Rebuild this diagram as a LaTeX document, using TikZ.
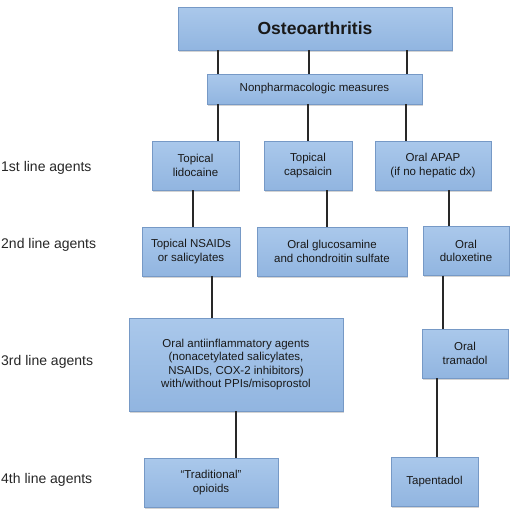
\documentclass[tikz,border=0pt]{standalone}
\usepackage{fontspec}
\setmainfont{Liberation Sans}
\usetikzlibrary{shadows}
\definecolor{boxtop}{RGB}{170,200,235}
\definecolor{boxbot}{RGB}{145,181,224}
\definecolor{boxedge}{RGB}{118,153,198}
\definecolor{linkgray}{RGB}{40,40,40}
\begin{document}
\begin{tikzpicture}[x=1pt, y=-1pt,
  box/.style={draw=boxedge, top color=boxtop, bottom color=boxbot, inner sep=0pt,
    minimum height=49pt, align=center, text=black!90,
    font=\fontsize{11.5}{13.5}\selectfont,
    drop shadow={shadow xshift=1pt, shadow yshift=-1.5pt, opacity=0.35}},
  link/.style={draw=linkgray, line width=1.2pt},
  level/.style={anchor=west, inner sep=1pt, text=black!85, font=\fontsize{14}{16}\selectfont}]
  \useasboundingbox (0,0) rectangle (512,512);
  % boxes
  \node[box, minimum width=274pt, minimum height=43pt, font=\bfseries\fontsize{17.5}{20}\selectfont] (oa) at (315,28.5) {Osteoarthritis};
  \node[box, minimum width=215pt, minimum height=30pt] (nonph) at (314.5,89) {Nonpharmacologic measures};
  \node[box, minimum width=87pt] (lido) at (195.5,165.5) {Topical\\lidocaine};
  \node[box, minimum width=88pt] (caps) at (308,165.5) {Topical\\capsaicin};
  \node[box, minimum width=116pt] (apap) at (433,165.5) {Oral APAP\\(if no hepatic dx)};
  \node[box, minimum width=98pt] (nsaid) at (191,251.5) {Topical NSAIDs\\or salicylates};
  \node[box, minimum width=150pt] (gluc) at (332,251.5) {Oral glucosamine\\and chondroitin sulfate};
  \node[box, minimum width=86pt] (dulox) at (466,251) {Oral\\duloxetine};
  \node[box, minimum width=214pt, minimum height=93pt] (antiinfl) at (236,364.5) {Oral antiinflammatory agents\\(nonacetylated salicylates,\\NSAIDs, COX-2 inhibitors)\\with/without PPIs/misoprostol};
  \node[box, minimum width=86pt] (tram) at (465,353.5) {Oral\\tramadol};
  \node[box, minimum width=134pt] (trad) at (211,482.5) {“Traditional”\\opioids};
  \node[box, minimum width=87pt] (tapen) at (434.5,481.5) {Tapentadol};
  % connectors
  \draw[link] ([xshift=-97pt]oa.south) -- ([xshift=-97pt]oa.south |- nonph.north);
  \draw[link] ([xshift=-6pt]oa.south) -- ([xshift=-6pt]oa.south |- nonph.north);
  \draw[link] ([xshift=92pt]oa.south) -- ([xshift=92pt]oa.south |- nonph.north);
  \draw[link] ([xshift=-96.5pt]nonph.south) -- ([xshift=-96.5pt]nonph.south |- lido.north);
  \draw[link] ([xshift=-6.5pt]nonph.south) -- ([xshift=-6.5pt]nonph.south |- caps.north);
  \draw[link] ([xshift=91.5pt]nonph.south) -- ([xshift=91.5pt]nonph.south |- apap.north);
  \draw[link] ([xshift=-2.5pt]lido.south) -- ([xshift=-2.5pt]lido.south |- nsaid.north);
  \draw[link] ([xshift=19pt]caps.south) -- ([xshift=19pt]caps.south |- gluc.north);
  \draw[link] ([xshift=16pt]apap.south) -- ([xshift=16pt]apap.south |- dulox.north);
  \draw[link] ([xshift=21pt]nsaid.south) -- ([xshift=21pt]nsaid.south |- antiinfl.north);
  \draw[link] ([xshift=-23pt]dulox.south) -- ([xshift=-23pt]dulox.south |- tram.north);
  \draw[link] (antiinfl.south) -- (antiinfl.south |- trad.north);
  \draw[link] ([xshift=-28pt]tram.south) -- ([xshift=-28pt]tram.south |- tapen.north);
  % levels
  \node[level] (l1) at (0,168) {1st line agents};
  \node[level] (l2) at (0,245) {2nd line agents};
  \node[level] (l3) at (0,362) {3rd line agents};
  \node[level] (l4) at (0,480) {4th line agents};
\end{tikzpicture}
\end{document}
